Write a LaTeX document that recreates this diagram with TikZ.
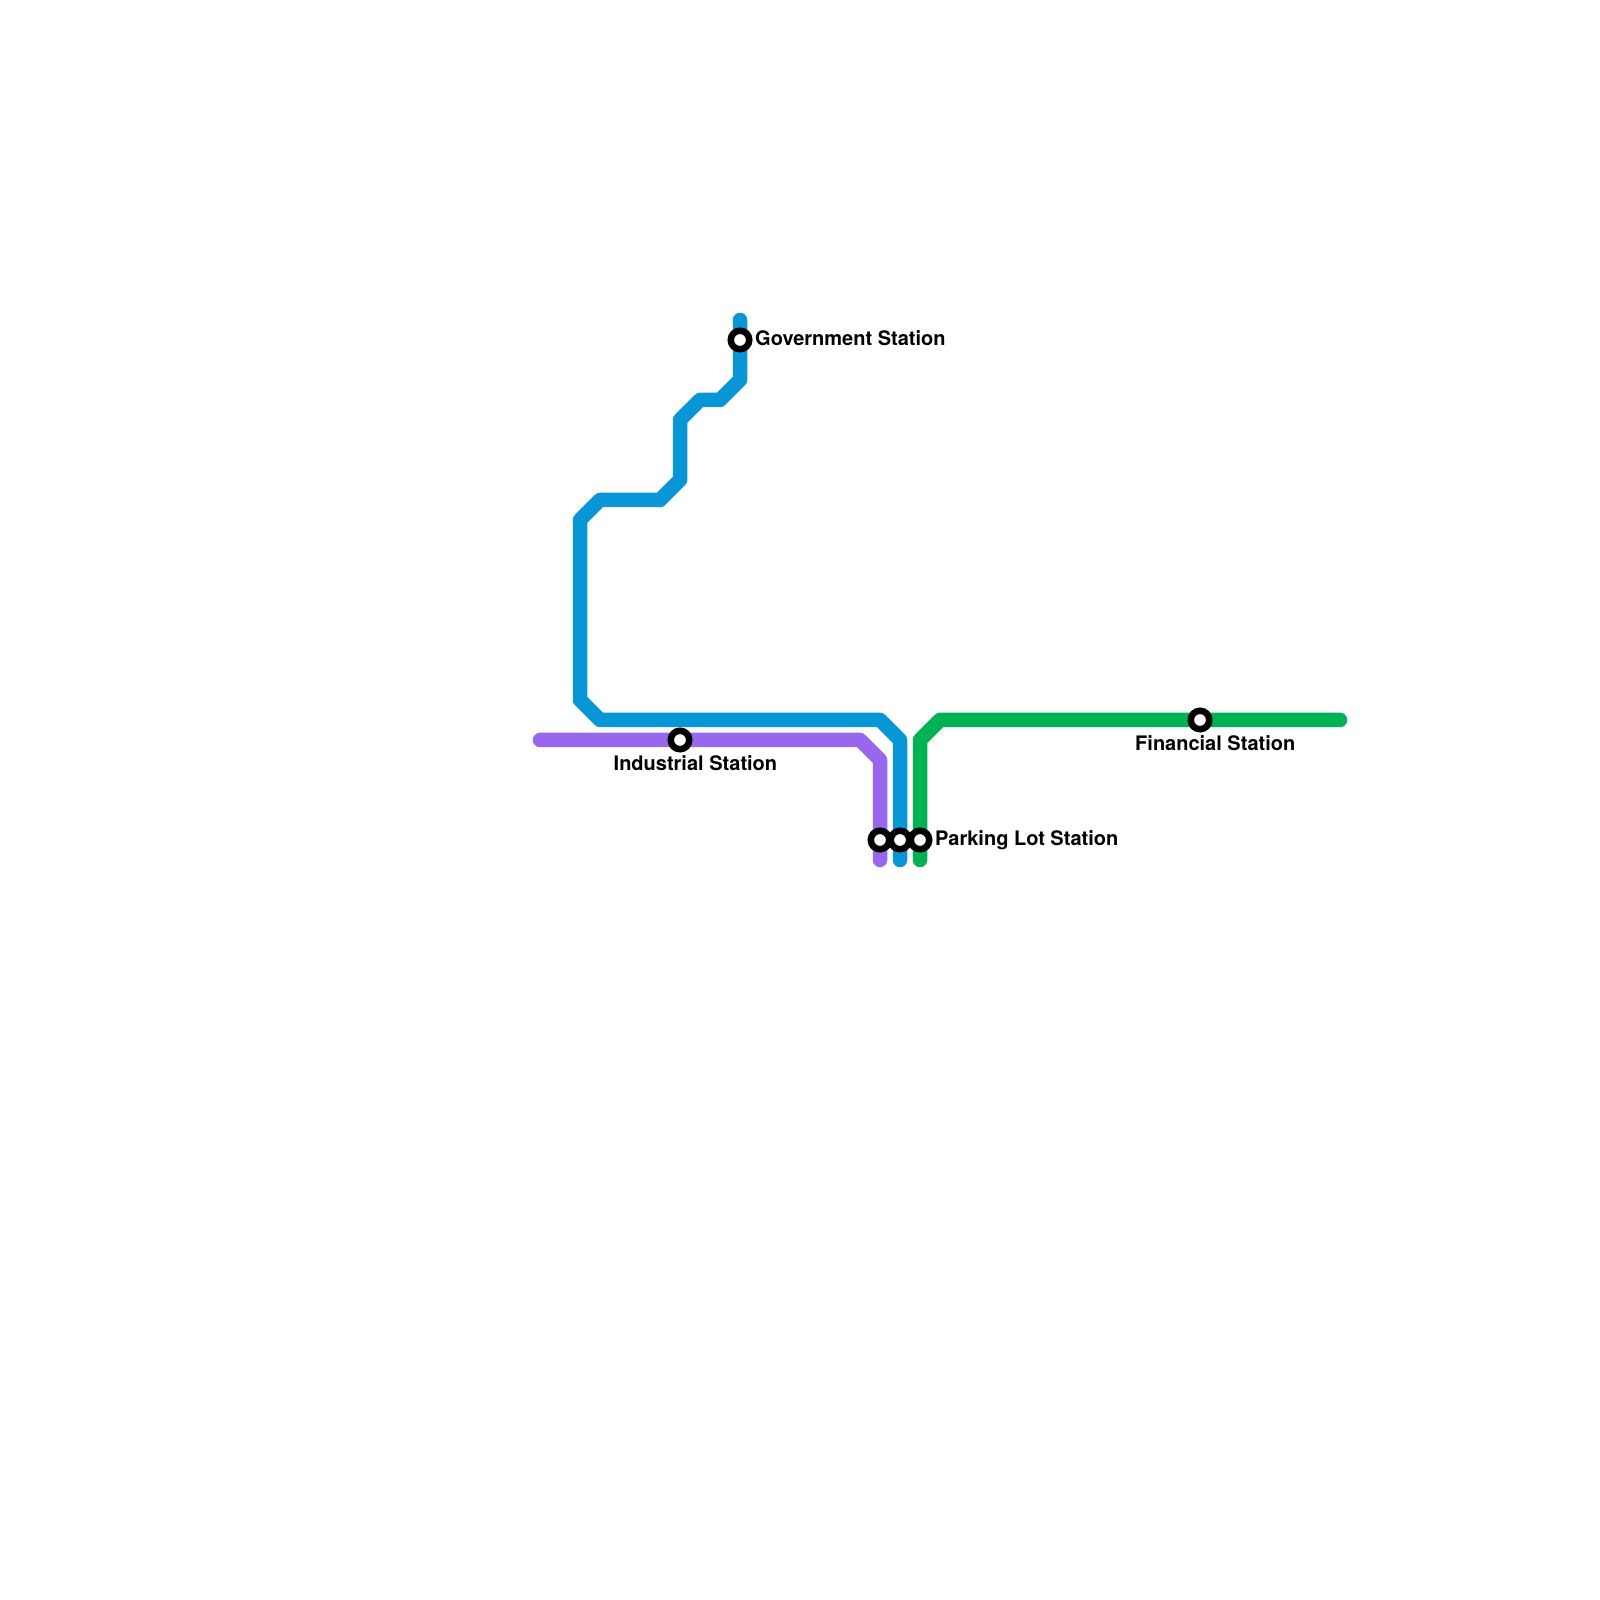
\documentclass[tikz,border=0pt]{standalone}
\usepackage{fontspec}
\setmainfont{TeX Gyre Heros}
\usepackage{xcolor}
\usepackage{tikz}
\usetikzlibrary{backgrounds}
\definecolor{metroBlue}{HTML}{0896D7}
\definecolor{metroPurple}{HTML}{9768EE}
\definecolor{metroGreen}{HTML}{00B251}
\tikzset{
  metro line/.style={line width=0.145cm, line cap=round, line join=round},
  metro station/.style={circle, draw=black, fill=white, line width=0.065cm,
    inner sep=0pt, minimum size=0.185cm},
  metro label/.style={font=\fontsize{5.69pt}{7pt}\selectfont\bfseries, text=black,
    inner sep=0pt}
}
\begin{document}
\begin{tikzpicture}
\useasboundingbox (0,0) rectangle (16,16);
\node[metro station] (government) at (7.4,12.6) {};
\node[metro station] (industrial) at (6.8,8.6) {};
\node[metro station] (financial) at (12,8.8) {};
\node[metro station] (parking purple) at (8.8,7.6) {};
\node[metro station] (parking blue) at (9,7.6) {};
\node[metro station] (parking green) at (9.2,7.6) {};
\node[metro label,anchor=west] (government label) at (7.545,12.62) {Government Station};
\node[metro label,anchor=west] (industrial label) at (6.13,8.37) {Industrial Station};
\node[metro label,anchor=west] (financial label) at (11.345,8.57) {Financial Station};
\node[metro label,anchor=west] (parking label) at (9.345,7.6) {Parking Lot Station};
\foreach \name/\x/\y in {b0/7.4/12.8,b1/7.4/12.2,b2/7.2/12,b3/7/12,b4/6.8/11.8,b5/6.8/11.2,
    b6/6.6/11,b7/6/11,b8/5.8/10.8,b9/5.8/9,b10/6/8.8,b11/8.8/8.8,b12/9/8.6,b13/9/7.4,
    p0/5.4/8.6,p1/8.6/8.6,p2/8.8/8.4,p3/8.8/7.4,
    g0/13.4/8.8,g1/9.4/8.8,g2/9.2/8.6,g3/9.2/7.4}
  \coordinate (\name) at (\x,\y);
\begin{scope}[on background layer]
\draw[metro line,draw=metroBlue] (b0) -- (government.center) -- (b1) -- (b2) -- (b3) -- (b4) -- (b5)
  -- (b6) -- (b7) -- (b8) -- (b9) -- (b10) -- (b11) -- (b12) -- (parking blue.center) -- (b13);
\draw[metro line,draw=metroPurple] (p0) -- (industrial.center) -- (p1) -- (p2)
  -- (parking purple.center) -- (p3);
\draw[metro line,draw=metroGreen] (g0) -- (financial.center) -- (g1) -- (g2)
  -- (parking green.center) -- (g3);
\end{scope}
\end{tikzpicture}
\end{document}
